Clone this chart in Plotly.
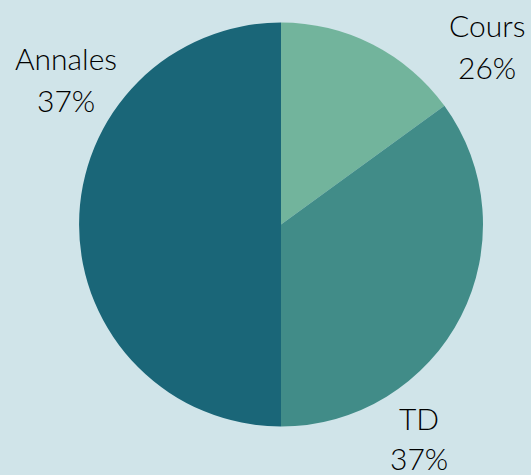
import plotly.graph_objects as go

categories = ["Cours", "TD", "Annales"]
values = [15, 35, 50]
pct_labels = ["26%", "37%", "37%"]
colors = ["#72b49c", "#418c88", "#1a6678"]

W, H = 531, 475
# label anchor positions (pixels): (x_center, y_name, y_pct)
label_pos = {
    "Cours": (487, 25, 67),
    "TD": (419, 418, 458),
    "Annales": (66, 58, 100),
}

cx, cy, r = 281, 224.5, 202

fig = go.Figure(go.Pie(
    labels=categories,
    values=values,
    marker=dict(colors=colors, line=dict(width=0)),
    sort=False,
    direction="clockwise",
    rotation=0,
    textinfo="none",
    hoverinfo="label+percent",
    showlegend=False,
    domain=dict(x=[(cx - r) / W, (cx + r) / W], y=[1 - (cy + r) / H, 1 - (cy - r) / H]),
))

font = dict(family="Lato, 'Open Sans', sans-serif", size=30, color="#000000", weight=300)
annotations = []
for cat, pct in zip(categories, pct_labels):
    x, y1, y2 = label_pos[cat]
    for txt, yy in ((cat, y1), (pct, y2)):
        annotations.append(dict(
            text=txt, x=x / W, y=1 - yy / H, xref="paper", yref="paper",
            xanchor="center", yanchor="middle", showarrow=False, font=font,
        ))

fig.update_layout(
    width=W, height=H,
    margin=dict(l=0, r=0, t=0, b=0),
    paper_bgcolor="#d0e4e9",
    plot_bgcolor="#d0e4e9",
    annotations=annotations,
)

fig.write_html(
    "out.html",
    config={"displayModeBar": False},
    post_script="document.body.style.margin='0';document.body.style.background='#d0e4e9';",
)
